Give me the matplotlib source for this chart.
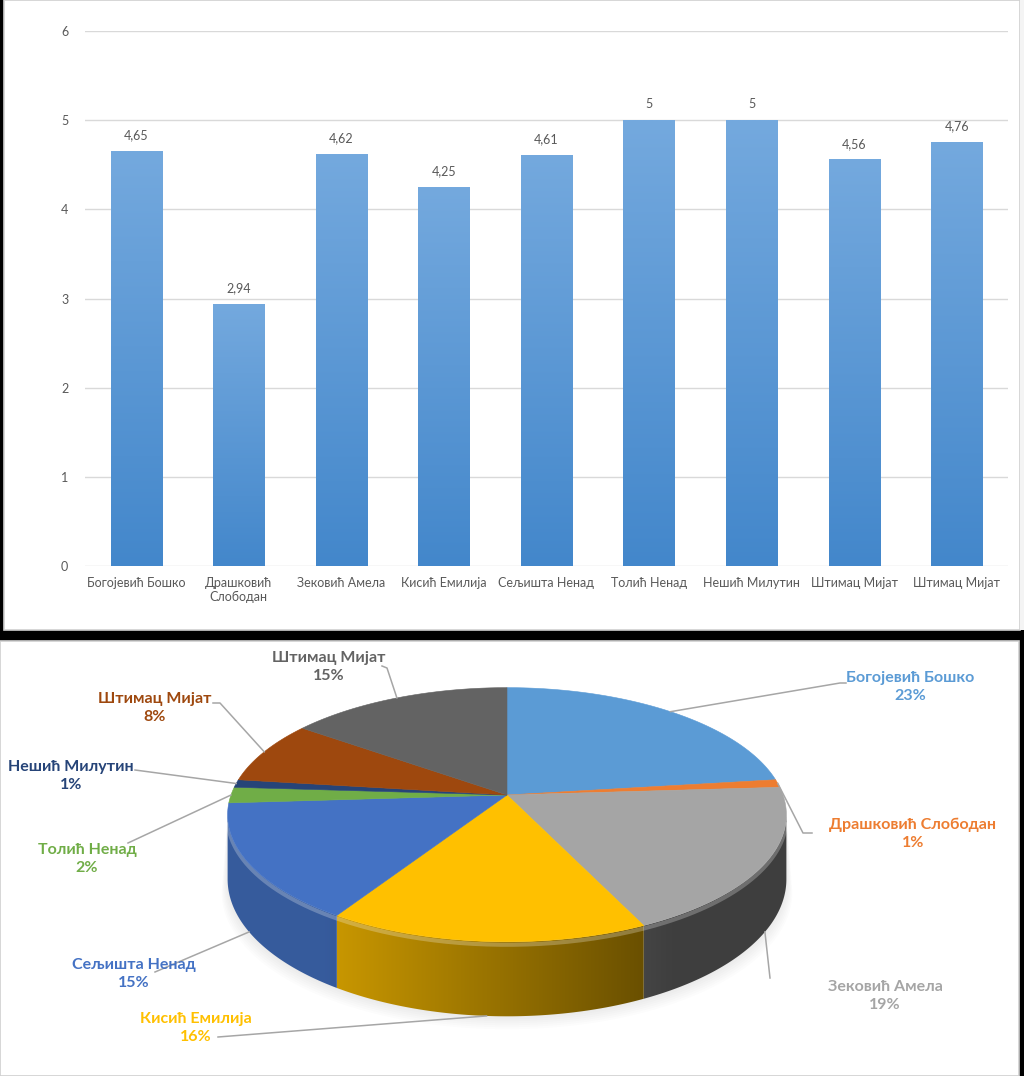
import numpy as np
import matplotlib
matplotlib.use('Agg')
import matplotlib.pyplot as plt
from matplotlib.patches import Rectangle, Polygon
from matplotlib.colors import to_rgb

# ---------------- data ----------------
bar_names = ['Богојевић Бошко', 'Драшковић\nСлободан', 'Зековић Амела', 'Кисић Емилија',
             'Сељишта Ненад', 'Толић Ненад', 'Нешић Милутин', 'Штимац Мијат', 'Штимац Мијат']
bar_values = [4.65, 2.94, 4.62, 4.25, 4.61, 5, 5, 4.56, 4.76]
y_ticks = [0, 1, 2, 3, 4, 5, 6]

pie_names = ['Богојевић Бошко', 'Драшковић Слободан', 'Зековић Амела', 'Кисић Емилија',
             'Сељишта Ненад', 'Толић Ненад', 'Нешић Милутин', 'Штимац Мијат', 'Штимац Мијат']
pie_shares = [23, 1, 19, 16, 15, 2, 1, 8, 15]
pie_colors = ['#5b9bd5', '#ed7d31', '#a5a5a5', '#ffc000', '#4472c4',
              '#70ad47', '#264478', '#9e480e', '#636363']

FONT = ['Lato', 'DejaVu Sans']
plt.rcParams['font.family'] = FONT

W, H = 1024, 1076
fig = plt.figure(figsize=(W / 100, H / 100), dpi=100, facecolor='black')

# panel backgrounds
fig.patches.append(Rectangle((4 / W, 1 - 630 / H), 1016 / W, 630 / H, transform=fig.transFigure,
                             facecolor='white', edgecolor='#d0d0d0', lw=1.2, zorder=-5))
fig.patches.append(Rectangle((1020 / W, 1 - 630 / H), 4 / W, 630 / H, transform=fig.transFigure,
                             facecolor='#f4f4f4', edgecolor='none', zorder=-5))
fig.patches.append(Rectangle((0, 0), 1019 / W, (H - 641) / H, transform=fig.transFigure,
                             facecolor='white', edgecolor='#d0d0d0', lw=1.2, zorder=-5))

# ---------------- bar chart ----------------
ax = fig.add_axes([85 / W, 1 - 566 / H, (1008 - 85) / W, (566 - 31) / H])
ax.set_facecolor('none')
x = np.arange(len(bar_values))
bars = ax.bar(x, bar_values, width=0.5, color='#5b9bd5', zorder=2)
grad = np.linspace(0, 1, 256).reshape(-1, 1)
c_top = np.array(to_rgb('#74a9de'))
c_bot = np.array(to_rgb('#4387cb'))
img = c_bot[None, None, :] * (1 - grad[:, :, None]) + c_top[None, None, :] * grad[:, :, None]
for b in bars:
    x0, w, h = b.get_x(), b.get_width(), b.get_height()
    im = ax.imshow(img, extent=[x0, x0 + w, 0, h], origin='lower', aspect='auto', zorder=3)
    im.set_clip_path(b)
    lbl = ('%.2f' % b.get_height()).rstrip('0').rstrip('.').replace('.', ',')
    ax.annotate(lbl, (x0 + w / 2, h), xytext=(0, 7), textcoords='offset points',
                ha='center', va='bottom', fontsize=9, color='#595959', zorder=4)
ax.set_xlim(-0.5, len(bar_values) - 0.5)
ax.set_ylim(0, 6)
ax.set_yticks(y_ticks)
ax.set_yticklabels([str(t) for t in y_ticks])
ax.set_xticks(x)
ax.set_xticklabels(bar_names, fontsize=9, color='#595959')
ax.tick_params(axis='y', length=0, pad=12, labelsize=9, labelcolor='#595959')
ax.tick_params(axis='x', length=0, pad=8)
ax.yaxis.grid(True, color='#d9d9d9', lw=1, zorder=0)
ax.set_axisbelow(True)
for s in ax.spines.values():
    s.set_visible(False)

# ---------------- 3D pie ----------------
axp = fig.add_axes([0, 0, 1019 / W, (H - 641) / H])
axp.axis('off')
axp.set_facecolor('none')

cx, cy, rx0, ry0, k, t = 507, 795, 276, 124, 0.155, 63


def proj(theta_deg):
    th = np.radians(theta_deg)
    u, v = np.sin(th), np.cos(th)
    s = 1 / (1 + k * v)
    return cx + rx0 * u * s, cy - ry0 * v * s, s


bounds = np.concatenate([[0], np.cumsum(pie_shares)]) / np.sum(pie_shares) * 360
sil0 = 180 - np.degrees(np.arccos(k))   # silhouette angles of the cylinder side
sil1 = 180 + np.degrees(np.arccos(k))

# soft shadow below the pie
th = np.linspace(sil0, sil1, 160)
xs, ys, ss = proj(th)
for grow in range(1, 15, 2):
    pts = list(zip(cx + (xs - cx) * (1 + grow / 600), ys + t * ss + grow))
    pts += list(zip(xs[::-1], ys[::-1]))
    axp.add_patch(Polygon(pts, closed=True, facecolor='black', alpha=0.012, edgecolor='none', zorder=1))


def shade(xp):
    return np.clip(0.78 - (xp - 340) / 300 * 0.36, 0.38, 0.8)


# sides with horizontal gradient
xgrid = np.linspace(200, 800, 600)
for i in range(len(pie_shares)):
    a0, a1 = max(bounds[i], sil0), min(bounds[i + 1], sil1)
    if a1 <= a0:
        continue
    th = np.linspace(a0, a1, max(2, int((a1 - a0) * 2) + 2))
    xs, ys, ss = proj(th)
    pts = list(zip(xs, ys)) + list(zip(xs[::-1], (ys + t * ss)[::-1]))
    poly = Polygon(pts, closed=True, facecolor='none', edgecolor='none', zorder=2)
    axp.add_patch(poly)
    base = np.array(to_rgb(pie_colors[i]))
    row = base[None, :] * shade(xgrid)[:, None]
    simg = np.repeat(row[None, :, :], 2, axis=0)
    im = axp.imshow(simg, extent=[200, 800, 1030, 760], aspect='auto', zorder=2,
                    interpolation='bilinear')
    im.set_clip_path(poly)

# bevel highlight along front rim
th = np.linspace(sil0 + 2, sil1 - 2, 200)
xs, ys, ss = proj(th)
axp.plot(xs, ys + 3, color='white', alpha=0.25, lw=3, zorder=3, solid_capstyle='butt')

# top faces
for i in range(len(pie_shares)):
    th = np.linspace(bounds[i], bounds[i + 1], max(2, int(bounds[i + 1] - bounds[i]) + 2))
    xs, ys, ss = proj(th)
    pts = [(cx, cy)] + list(zip(xs, ys))
    axp.add_patch(Polygon(pts, closed=True, facecolor=pie_colors[i], edgecolor=pie_colors[i],
                          lw=0.4, zorder=4))

# labels and leader lines
label_pos = [(910, 687), (913, 834), (885, 996), (196, 1028), (134, 974),
             (87, 859), (71, 776), (155, 708), (329, 667)]
leader_end = [[(840, 683), (846, 683)], [(803, 833), (812, 833)], [(770, 978)],
              [(218, 1037)], [(155, 972)], [(128, 843)], [(135, 770)],
              [(220, 703), (213, 703)], [(387, 668), (382, 666)]]
for i in range(len(pie_shares)):
    mid = (bounds[i] + bounds[i + 1]) / 2
    sx, sy, ss = proj(mid)
    if np.cos(np.radians(mid)) < -0.3:
        sy = sy + t * ss
    pts = [(sx, sy)] + leader_end[i]
    axp.plot([p[0] for p in pts], [p[1] for p in pts], color='#a6a6a6', lw=1.1, zorder=5)
    pct = '%d%%' % round(pie_shares[i] / np.sum(pie_shares) * 100)
    axp.text(label_pos[i][0], label_pos[i][1], pie_names[i] + '\n' + pct, ha='center', va='center',
             fontsize=11.5, fontweight='bold', color=pie_colors[i], linespacing=1.4, zorder=6)

axp.set_xlim(0, 1019)
axp.set_ylim(H, 641)

fig.savefig('out.png', dpi=100, facecolor='black')
